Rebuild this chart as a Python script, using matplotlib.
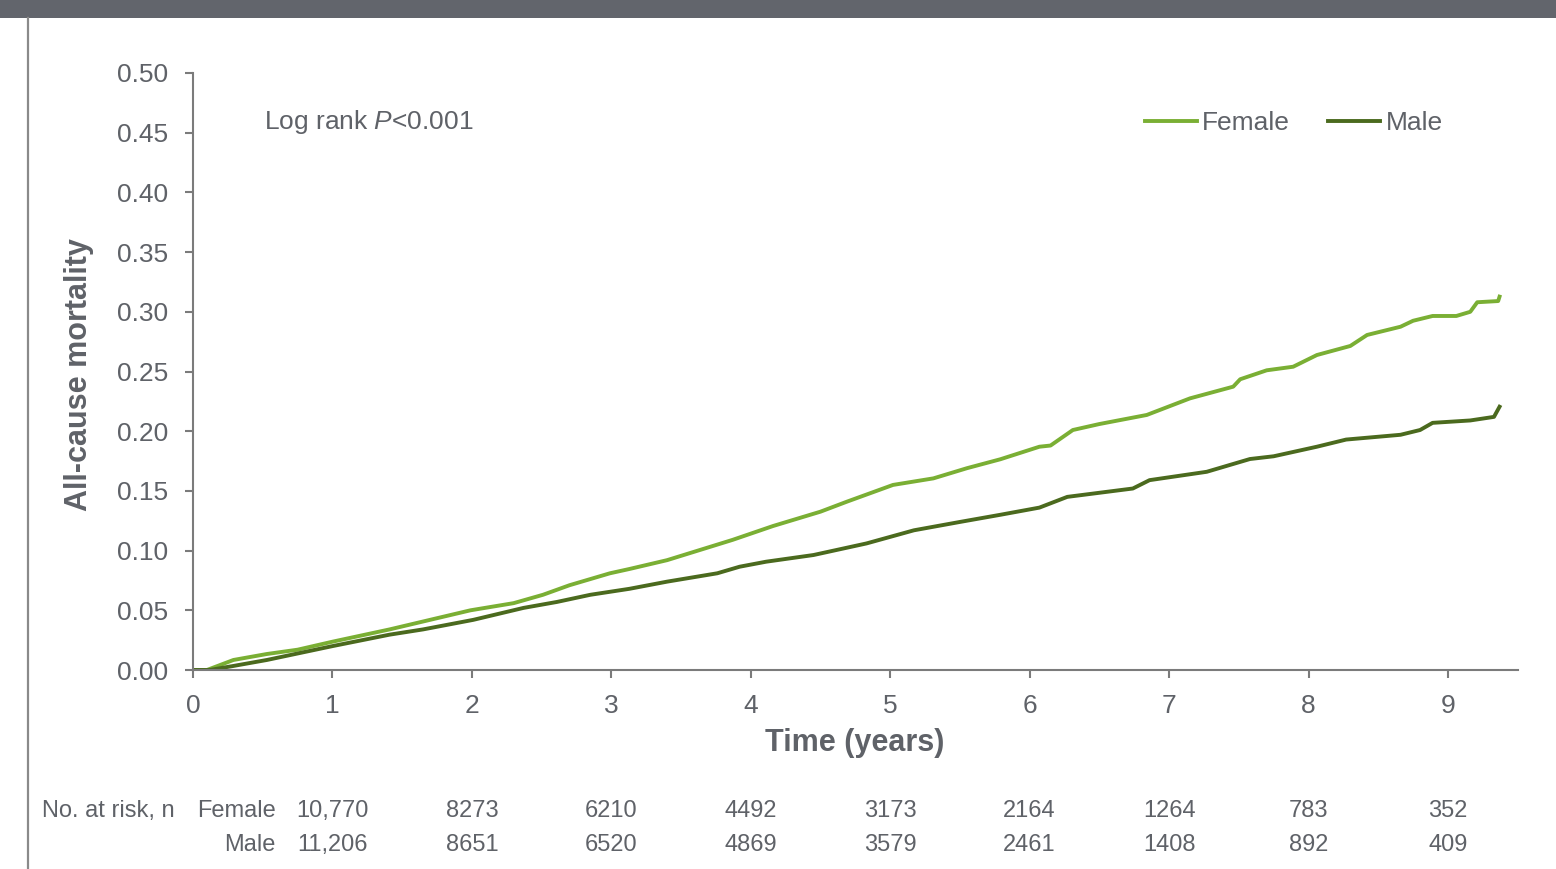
import matplotlib
matplotlib.use("Agg")
import matplotlib.pyplot as plt
from matplotlib.patches import Rectangle
from matplotlib.lines import Line2D
import matplotlib.transforms as mtransforms

plt.rcParams['font.family'] = ['Liberation Sans', 'DejaVu Sans']
plt.rcParams['mathtext.fontset'] = 'custom'
plt.rcParams['mathtext.rm'] = 'Liberation Sans'
plt.rcParams['mathtext.it'] = 'Liberation Sans:italic'

# ---- data ----
female_t = [0, 0.10, 0.29, 0.53, 0.75, 1.00, 1.41, 1.99, 2.30, 2.51, 2.70, 2.99, 3.13,
            3.40, 3.87, 4.16, 4.50, 4.69, 5.02, 5.31, 5.55, 5.79, 6.07, 6.15, 6.31,
            6.50, 6.84, 7.15, 7.46, 7.51, 7.70, 7.89, 8.06, 8.30, 8.42, 8.66, 8.75,
            8.89, 9.06, 9.16, 9.21, 9.36, 9.37]
female_y = [0, 0.0, 0.0084, 0.0134, 0.0170, 0.0237, 0.034, 0.050, 0.056, 0.063, 0.071,
            0.081, 0.0846, 0.092, 0.109, 0.1206, 0.1326, 0.141, 0.155, 0.1605, 0.169,
            0.1765, 0.187, 0.188, 0.201, 0.206, 0.2136, 0.2275, 0.2373, 0.2435, 0.251,
            0.254, 0.2638, 0.2714, 0.2806, 0.2875, 0.2925, 0.2965, 0.2965, 0.300,
            0.308, 0.309, 0.3127]
male_t = [0, 0.12, 0.29, 0.53, 1.00, 1.41, 1.65, 2.01, 2.37, 2.61, 2.85, 3.13, 3.40,
          3.76, 3.92, 4.11, 4.45, 4.83, 5.17, 5.50, 5.79, 6.07, 6.27, 6.74, 6.86,
          7.27, 7.58, 7.75, 8.06, 8.27, 8.66, 8.80, 8.89, 9.16, 9.33, 9.37]
male_y = [0, 0.0, 0.0034, 0.0084, 0.020, 0.0296, 0.034, 0.042, 0.052, 0.057, 0.063,
          0.068, 0.074, 0.081, 0.0865, 0.0907, 0.0963, 0.106, 0.117, 0.124, 0.130,
          0.136, 0.145, 0.152, 0.159, 0.166, 0.1767, 0.179, 0.187, 0.193, 0.197,
          0.201, 0.207, 0.209, 0.212, 0.2205]

x_ticks = [0, 1, 2, 3, 4, 5, 6, 7, 8, 9]
y_ticks = [0.00, 0.05, 0.10, 0.15, 0.20, 0.25, 0.30, 0.35, 0.40, 0.45, 0.50]

risk_pos = [1, 2, 3, 4, 5, 6, 7, 8, 9]
risk_female = ["10,770", "8273", "6210", "4492", "3173", "2164", "1264", "783", "352"]
risk_male = ["11,206", "8651", "6520", "4869", "3579", "2461", "1408", "892", "409"]

# ---- style ----
W, H = 1556, 869
txt = '#5f6268'
spine = '#7b7b7b'
c_f = '#7aaf34'
c_m = '#4b6a1e'

fig = plt.figure(figsize=(W / 100, H / 100), dpi=100)
fig.patch.set_facecolor('white')

# header bar and left border
fig.patches.append(Rectangle((0, 1 - 18 / H), 1, 18 / H, transform=fig.transFigure,
                             facecolor='#62656c', edgecolor='none', zorder=0))
fig.lines.append(Line2D([28 / W, 28 / W], [0, 1 - 18 / H], transform=fig.transFigure,
                        color='#8a8a8a', lw=1.6))

ax = fig.add_axes([193 / W, 1 - 670 / H, 1325 / W, 597 / H])
ax.plot(female_t, female_y, color=c_f, lw=2.8, solid_joinstyle='round', label='Female')
ax.plot(male_t, male_y, color=c_m, lw=2.8, solid_joinstyle='round', label='Male')

ax.set_xlim(0, 1325 / 139.44)
ax.set_ylim(0, 0.5)
ax.set_xticks(x_ticks)
ax.set_yticks(y_ticks)
ax.set_yticklabels([f"{v:.2f}" for v in y_ticks])
for s in ['top', 'right']:
    ax.spines[s].set_visible(False)
for s in ['left', 'bottom']:
    ax.spines[s].set_color(spine)
    ax.spines[s].set_linewidth(1.5)
ax.tick_params(axis='both', colors=spine, labelcolor=txt, labelsize=19,
               length=6, width=1.5, direction='out')
ax.tick_params(axis='y', pad=12)
ax.tick_params(axis='x', pad=11)
ax.set_facecolor('none')

fig.text(79 / W, 1 - 375 / H, 'All-cause mortality', rotation=90, ha='center',
         va='center', fontsize=22, fontweight='bold', color=txt)
fig.text(855 / W, 1 - 743 / H, 'Time (years)', ha='center', va='center',
         fontsize=22, fontweight='bold', color=txt)

fig.text(264 / W, 1 - 122 / H, r'Log rank $\mathit{P}$<0.001', ha='left', va='center',
         fontsize=19, color=txt)

leg = ax.legend(loc='center left', bbox_to_anchor=(1145 / W, 1 - 123 / H),
                bbox_transform=fig.transFigure, ncol=2, frameon=False, fontsize=19,
                handlelength=1.97, handletextpad=0.2, columnspacing=1.45,
                borderpad=0, borderaxespad=0)
for t in leg.get_texts():
    t.set_color(txt)

# at-risk table
blend = mtransforms.blended_transform_factory(ax.transData, fig.transFigure)
yf = 1 - 811 / H
ym = 1 - 845 / H
fig.text(42 / W, yf, 'No. at risk, n', ha='left', va='center', fontsize=17, color=txt)
fig.text(276 / W, yf, 'Female', ha='right', va='center', fontsize=17, color=txt)
fig.text(276 / W, ym, 'Male', ha='right', va='center', fontsize=17, color=txt)
for p, a, b in zip(risk_pos, risk_female, risk_male):
    ax.text(p, yf, a, transform=blend, ha='center', va='center', fontsize=17, color=txt)
    ax.text(p, ym, b, transform=blend, ha='center', va='center', fontsize=17, color=txt)

fig.savefig('out.png', dpi=100)
